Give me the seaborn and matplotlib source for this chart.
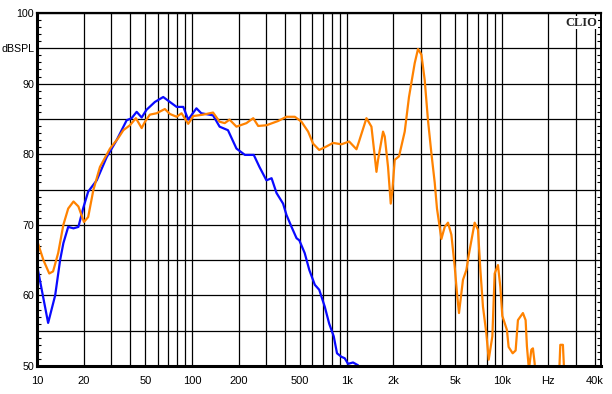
import matplotlib
matplotlib.use("Agg")
import matplotlib.pyplot as plt
import matplotlib.ticker as mticker
import pandas as pd
import seaborn as sns

# woofer response (blue)
woofer_hz = [10, 11.8, 13.1, 14.1, 14.8, 15.9, 17.2, 18.5, 19.9, 21.4, 24.3, 28.2,
             32.7, 37.9, 40.8, 44.0, 47.4, 51.0, 57.7, 65.3, 72.1, 79.7, 88.0, 94.7,
             107, 115, 137, 151, 171, 194, 220, 251, 273, 303, 327, 352, 388, 408,
             440, 474, 494, 535, 573, 622, 664, 721, 770, 824, 865, 924, 970, 1019,
             1098, 1183]
woofer_db = [64.3, 56.1, 60.0, 65.0, 67.4, 69.7, 69.5, 69.7, 72.4, 74.7, 76.3, 79.6,
             82.0, 84.8, 85.1, 86.0, 85.2, 86.3, 87.4, 88.1, 87.4, 86.7, 86.7, 84.9,
             86.5, 85.8, 85.5, 83.9, 83.4, 80.8, 79.9, 79.9, 78.2, 76.3, 76.6, 74.5,
             73.0, 71.4, 69.7, 68.1, 67.8, 66.0, 63.6, 61.5, 60.8, 58.4, 56.0, 54.2,
             51.8, 51.3, 51.1, 50.3, 50.5, 50.1]

# system response (orange)
system_hz = [10, 11.0, 12.0, 12.7, 13.7, 14.8, 15.9, 17.2, 18.5, 20.1, 21.4, 23.1,
             25.5, 29.6, 33.5, 36.1, 39.8, 43.5, 47.4, 49.8, 53.5, 59.2, 66.9, 72.1,
             79.7, 85.8, 94.7, 102, 118, 137, 151, 163, 175, 194, 225, 249, 268, 303,
             360, 408, 462, 510, 563, 606, 664, 740, 816, 924, 1036, 1155, 1200, 1340,
             1443, 1516, 1555, 1592, 1715, 1759, 1847, 1923, 1971, 2040, 2175, 2367,
             2522, 2746, 2884, 3034, 3186, 3345, 3520, 3696, 3824, 4083, 4289, 4503,
             4736, 4976, 5148, 5304, 5627, 5920, 6130, 6694, 7034, 7290, 7575, 7967,
             8250, 8710, 9015, 9465, 9808, 10100, 10820, 11090, 11780, 12310, 12740,
             13720, 14280, 14560, 15000, 15550, 15920, 16330, 16820, 19810, 23320,
             23920, 24860, 25610, 27000, 43000]
system_db = [67.8, 65.0, 63.1, 63.4, 66.0, 70.0, 72.3, 73.3, 72.6, 70.4, 71.1, 74.9,
             78.2, 80.8, 82.3, 83.4, 84.1, 85.1, 83.7, 84.6, 85.6, 85.8, 86.4, 85.7,
             85.3, 85.8, 84.3, 85.4, 85.6, 85.9, 84.6, 84.4, 84.9, 83.9, 84.4, 85.1,
             84.0, 84.1, 84.7, 85.3, 85.3, 84.6, 83.2, 81.5, 80.6, 81.1, 81.6, 81.4,
             81.8, 80.7, 81.8, 85.1, 83.9, 79.7, 77.5, 79.2, 83.2, 82.5, 78.2, 73.0,
             74.9, 79.2, 79.7, 83.2, 88.1, 92.9, 94.9, 94.1, 90.5, 84.8, 80.1, 76.0,
             72.3, 68.0, 69.7, 70.3, 68.6, 64.1, 60.3, 57.5, 62.2, 63.6, 65.7, 70.3,
             69.3, 63.6, 58.4, 54.6, 50.9, 54.2, 63.1, 64.3, 61.2, 57.1, 55.1, 52.7,
             51.8, 52.2, 56.5, 57.5, 56.5, 52.8, 49.5, 52.3, 52.5, 50.4, 47.0, 45.0,
             47.0, 53.0, 53.0, 47.0, 45.0, 45.0]

grid_hz = [m * 10 ** d for d in range(1, 5) for m in range(1, 10)]
grid_hz = sorted(f for f in grid_hz if 10 <= f <= 40000)
x_labels = {10: "10", 20: "20", 50: "50", 100: "100", 200: "200", 500: "500",
            1000: "1k", 2000: "2k", 5000: "5k", 10000: "10k", 20000: "Hz", 40000: "40k"}
y_ticks = [50, 55, 60, 65, 70, 75, 80, 85, 90, 95, 100]
y_labels = ["50", "", "60", "", "70", "", "80", "", "90", "dBSPL", "100"]

df_w = pd.DataFrame({"Hz": woofer_hz, "dB": woofer_db})
df_s = pd.DataFrame({"Hz": system_hz, "dB": system_db})

sns.set_style("white")
plt.rcParams["font.family"] = ["Liberation Sans", "DejaVu Sans"]

fig = plt.figure(figsize=(6.12, 3.94), dpi=100)
ax = fig.add_axes([37 / 612, 28 / 394, 564 / 612, 353 / 394])

sns.lineplot(data=df_w, x="Hz", y="dB", color="#0a0aff", lw=1.6, ax=ax, zorder=3)
sns.lineplot(data=df_s, x="Hz", y="dB", color="#ff8200", lw=1.6, ax=ax, zorder=4)

ax.set_xscale("log")
ax.set_xlim(10, 43800)
ax.set_ylim(50, 100)

ax.set_xticks(grid_hz)
ax.set_xticklabels([x_labels.get(f, "") for f in grid_hz])
ax.xaxis.set_minor_locator(mticker.NullLocator())
ax.set_yticks(y_ticks)
ax.set_yticklabels(y_labels)
ax.yaxis.set_minor_locator(mticker.MultipleLocator(1))

ax.tick_params(axis="x", which="major", length=0, pad=7, labelsize=8, colors="black")
ax.tick_params(axis="y", which="major", length=0, pad=2, labelsize=7.7, colors="black")
ax.tick_params(axis="y", which="minor", direction="in", length=3, width=0.8,
               left=True, right=True, color="black")
ax.grid(True, which="major", color="black", lw=0.9)
ax.set_axisbelow(True)

for side, w in [("left", 2.2), ("bottom", 2.2), ("top", 1.6), ("right", 1.4)]:
    ax.spines[side].set_visible(True)
    ax.spines[side].set_color("black")
    ax.spines[side].set_linewidth(w)
    ax.spines[side].set_zorder(5)

ax.set_xlabel("")
ax.set_ylabel("")
ax.text(0.993, 0.99, "CLIO", transform=ax.transAxes, ha="right", va="top",
        fontsize=9, fontweight="bold", family=["Liberation Serif", "DejaVu Serif"],
        zorder=6, bbox=dict(facecolor="white", edgecolor="none", pad=0.5))

fig.savefig("out.png", dpi=100)
